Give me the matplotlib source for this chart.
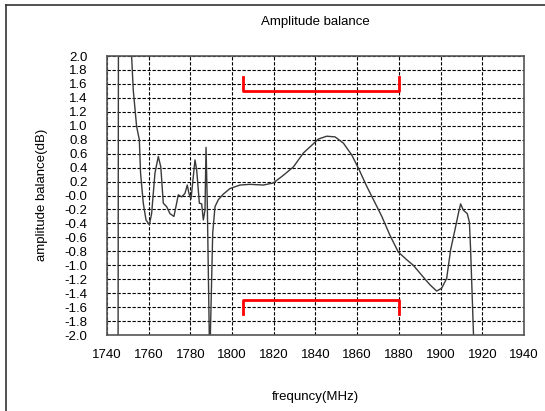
import numpy as np
import matplotlib.pyplot as plt
from matplotlib.lines import Line2D

plt.rcParams['font.family'] = ['Liberation Sans', 'DejaVu Sans']

# amplitude balance trace (MHz, dB)
freq = [1745.3, 1745.5, 1751.5, 1751.8, 1752.6, 1754.2, 1755.5, 1756.1, 1757.4, 1758.7,
        1760.3, 1761.4, 1763.0, 1764.6, 1765.8, 1767.0, 1768.6, 1770.2, 1772.1, 1773.4,
        1774.2, 1775.8, 1777.4, 1778.5, 1779.3, 1780.3, 1782.2, 1783.0, 1784.3, 1785.4,
        1786.2, 1787.0, 1787.5, 1788.1, 1789.1, 1789.5, 1790.7, 1791.8, 1793.4, 1795.8,
        1799.0, 1803.8, 1808.6, 1815.0, 1819.8, 1824.6, 1829.4, 1834.2, 1838.2, 1841.4,
        1845.4, 1849.4, 1853.4, 1857.4, 1860.6, 1864.6, 1867.8, 1871.8, 1875.7, 1879.7,
        1883.7, 1886.9, 1891.7, 1894.9, 1898.1, 1900.5, 1902.9, 1904.8, 1906.9, 1908.5,
        1909.6, 1910.9, 1912.8, 1913.8, 1914.4, 1915.9]
balance = [-2.6, 2.6, 2.6, 2.0, 1.51, 0.99, 0.80, 0.32, -0.11, -0.35,
           -0.42, -0.26, 0.32, 0.56, 0.41, -0.11, -0.16, -0.26, -0.30, -0.11,
           0.01, -0.02, 0.03, 0.15, 0.03, -0.05, 0.51, 0.37, -0.11, -0.12,
           -0.35, -0.21, 0.69, -0.11, -2.1, -2.1, -0.54, -0.16, -0.06, 0.02,
           0.10, 0.15, 0.16, 0.15, 0.18, 0.29, 0.41, 0.61, 0.72, 0.81,
           0.85, 0.84, 0.75, 0.58, 0.39, 0.13, -0.06, -0.30, -0.57, -0.81,
           -0.92, -1.00, -1.17, -1.28, -1.37, -1.33, -1.19, -0.78, -0.49, -0.26,
           -0.12, -0.21, -0.26, -0.38, -0.78, -2.1]

# spec brackets
spec_lo, spec_hi = 1805, 1880
spec_upper = [1.7, 1.5, 1.5, 1.7]
spec_lower = [-1.7, -1.5, -1.5, -1.7]

xticks = np.arange(1740, 1941, 20)
yticks = np.round(np.arange(-2.0, 2.01, 0.2), 1)

fig = plt.figure(figsize=(5.45, 4.11), dpi=100)
ax = fig.add_axes([107 / 545, 76 / 411, 417 / 545, 279 / 411])

ax.plot(freq, balance, color='#3a3a3a', lw=1.0)
ax.plot([spec_lo, spec_lo, spec_hi, spec_hi], spec_upper, color='red', lw=2)
ax.plot([spec_lo, spec_lo, spec_hi, spec_hi], spec_lower, color='red', lw=2)

ax.set_xlim(1740, 1940)
ax.set_ylim(-2.0, 2.0)
ax.set_xticks(xticks)
ax.set_yticks(yticks)
ax.set_yticklabels([f'{v:.1f}' for v in yticks])
ax.tick_params(axis='both', length=0, labelsize=9.5)
ax.tick_params(axis='y', pad=14)
ax.tick_params(axis='x', pad=10)
ax.grid(True, color='black', linestyle=(0, (3, 1.5)), lw=0.8)
for s in ax.spines.values():
    s.set_color('#555555')
    s.set_linewidth(1.2)

fig.text(0.5 * (107 + 524) / 545, 1 - 22 / 411, 'Amplitude balance',
         ha='center', va='center', fontsize=9.5)
fig.text(0.5 * (107 + 524) / 545, 1 - 397 / 411, 'frequncy(MHz)',
         ha='center', va='center', fontsize=9.5)
fig.text(42 / 545, 1 - 195 / 411, 'amplitude balance(dB)', rotation=90,
         ha='center', va='center', fontsize=9.5)

# outer frame
fig.add_artist(Line2D([6 / 545, 6 / 545], [0, 1 - 5 / 411], color='#333333', lw=1.2))
fig.add_artist(Line2D([6 / 545, 1], [1 - 5 / 411, 1 - 5 / 411], color='#333333', lw=1.2))

fig.savefig('out.png', dpi=100)
